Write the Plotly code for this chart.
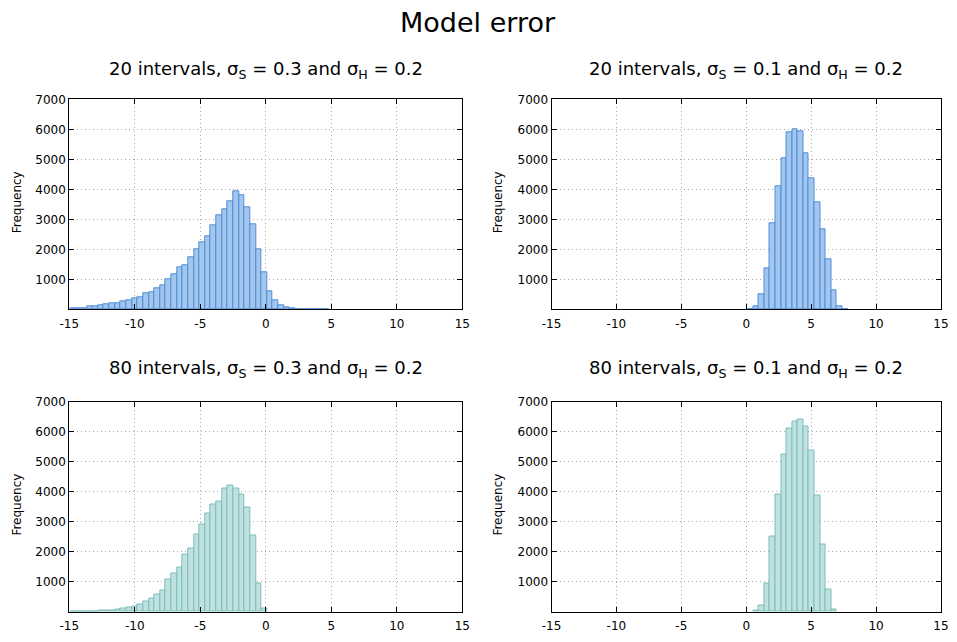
import plotly.graph_objects as go

# ---------------- data ----------------
BIN_START = -14.95
BIN_WIDTH = 0.43

# panel 1: 20 intervals, sigma_S = 0.3 (bins starting at index 0)
p1_start = 0
p1_counts = [45, 45, 50, 90, 90, 120, 155, 200, 190, 255, 300, 370, 400, 545, 580,
             715, 790, 990, 1160, 1400, 1470, 1720, 2010, 2230, 2450, 2795, 3125,
             3335, 3610, 3935, 3790, 3400, 2820, 2010, 1230, 595, 310, 120, 55, 45,
             15, 10, 10, 8, 5, 5]
# panel 2: 20 intervals, sigma_S = 0.1
p2_start = 35
p2_counts = [10, 110, 500, 1360, 2865, 4090, 5040, 5900, 6000, 5935, 5200, 4360,
             3580, 2655, 1660, 645, 110, 10]
# panel 3: 80 intervals, sigma_S = 0.3
p3_start = 0
p3_counts = [3, 5, 8, 12, 18, 28, 44, 55, 78, 111, 144, 178, 244, 344, 433, 578,
             711, 1072, 1278, 1478, 1889, 2111, 2578, 2900, 3278, 3578, 3678, 4089,
             4211, 4111, 3889, 3456, 2533, 933, 111]
# panel 4: 80 intervals, sigma_S = 0.1
p4_start = 36
p4_counts = [30, 190, 945, 2500, 3910, 5245, 6090, 6330, 6410, 6165, 5375, 3855,
             2245, 755, 80]

titles = ["20 intervals, σ<sub>S</sub> = 0.3 and σ<sub>H</sub> = 0.2",
          "20 intervals, σ<sub>S</sub> = 0.1 and σ<sub>H</sub> = 0.2",
          "80 intervals, σ<sub>S</sub> = 0.3 and σ<sub>H</sub> = 0.2",
          "80 intervals, σ<sub>S</sub> = 0.1 and σ<sub>H</sub> = 0.2"]
x_tickvals = [-15, -10, -5, 0, 5, 10, 15]
x_ticktext = ["-15", "-10", "-5", "0", "5", "10", "15"]
y_tickvals = [1000, 2000, 3000, 4000, 5000, 6000, 7000]
y_ticktext = ["1000", "2000", "3000", "4000", "5000", "6000", "7000"]

# ---------------- styling ----------------
FONT = "DejaVu Sans"
W, H = 957, 642
BLUE_FILL, BLUE_LINE = "#a3c6ee", "#4f8ed8"
TEAL_FILL, TEAL_LINE = "#bfe1df", "#7cbdbd"

px_x = [(69.3, 462.3), (551.5, 941.0)]
px_y = [(99.3, 309.3), (401.5, 611.7)]


def dom_x(i):
    a, b = px_x[i]
    return [a / W, b / W]


def dom_y(i):
    t, b = px_y[i]
    return [1 - b / H, 1 - t / H]


panels = [
    (p1_start, p1_counts, BLUE_FILL, BLUE_LINE, 0, 0),
    (p2_start, p2_counts, BLUE_FILL, BLUE_LINE, 1, 0),
    (p3_start, p3_counts, TEAL_FILL, TEAL_LINE, 0, 1),
    (p4_start, p4_counts, TEAL_FILL, TEAL_LINE, 1, 1),
]

fig = go.Figure()
annotations = []
layout = dict(
    width=W, height=H,
    margin=dict(l=0, r=0, t=0, b=0, pad=0, autoexpand=False),
    paper_bgcolor="white", plot_bgcolor="white",
    showlegend=False,
    font=dict(family=FONT, color="black", size=12),
    bargap=0,
)

for k, (start, counts, fill, line, col, row) in enumerate(panels):
    n = k + 1
    xs = [BIN_START + BIN_WIDTH * (start + i + 0.5) for i in range(len(counts))]
    fig.add_trace(go.Bar(
        x=xs, y=counts, width=BIN_WIDTH,
        marker=dict(color=fill, line=dict(color=line, width=1)),
        xaxis=f"x{n}", yaxis=f"y{n}", hoverinfo="x+y",
    ))
    axis_common = dict(
        automargin=False,
        showline=True, linecolor="black", linewidth=1, mirror="ticks",
        ticks="inside", ticklen=5, tickcolor="black", tickwidth=1,
        showgrid=True, gridcolor="#a8a8a8", gridwidth=1, griddash="1px,3px",
        zeroline=False, tickfont=dict(family=FONT, size=12, color="black"),
    )
    layout[f"xaxis{n}"] = dict(
        axis_common, domain=dom_x(col), anchor=f"y{n}",
        range=[-15, 15], tickvals=x_tickvals, ticktext=x_ticktext,
        ticklabelstandoff=3,
    )
    layout[f"yaxis{n}"] = dict(
        axis_common, domain=dom_y(row), anchor=f"x{n}",
        range=[0, 7000], tickvals=y_tickvals, ticktext=y_ticktext,
    )
    # subplot title
    cx = (px_x[col][0] + px_x[col][1]) / 2 / W
    ty = 1 - (70 if row == 0 else 369) / H
    annotations.append(dict(
        text=titles[k], x=cx, y=ty, xref="paper", yref="paper",
        xanchor="center", yanchor="middle", showarrow=False,
        font=dict(family=FONT, size=18, color="black"),
    ))
    # y-axis label
    lx = (17 if col == 0 else 498) / W
    ly = 1 - ((px_y[row][0] + px_y[row][1]) / 2 - 2) / H
    annotations.append(dict(
        text="Frequency", x=lx, y=ly, xref="paper", yref="paper",
        xanchor="center", yanchor="middle", showarrow=False, textangle=-90,
        font=dict(family=FONT, size=12, color="black"),
    ))

annotations.append(dict(
    text="Model error", x=478 / W, y=1 - 22 / H, xref="paper", yref="paper",
    xanchor="center", yanchor="middle", showarrow=False,
    font=dict(family=FONT, size=27, color="black"),
))
layout["annotations"] = annotations
fig.update_layout(**layout)
fig.write_html("out.html")
